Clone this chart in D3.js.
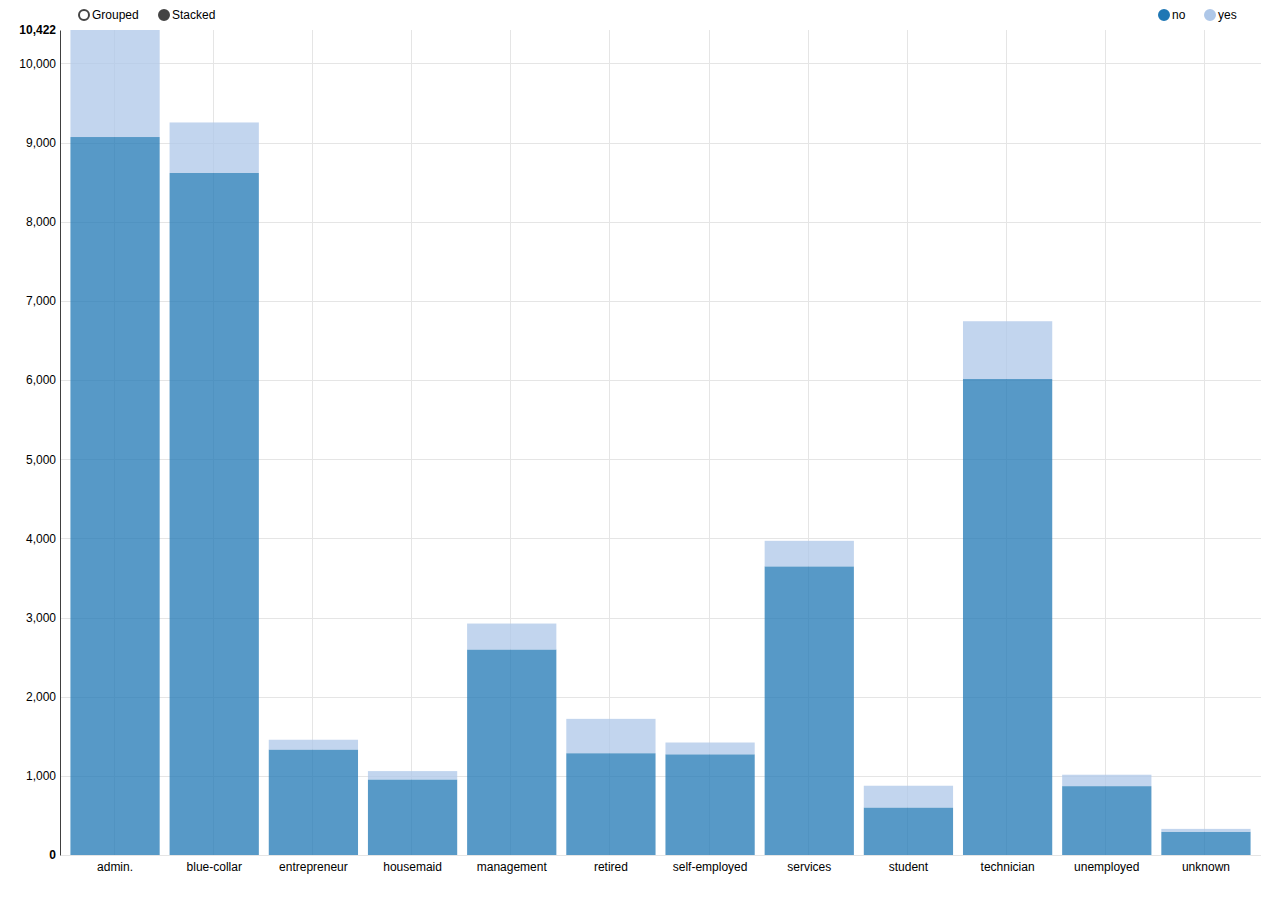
<!DOCTYPE html>
<head>
  <meta charset="utf-8">
  <script src="https://d3js.org/d3.v7.min.js"></script>
  <style>
    body { margin: 0; background: #fff; }
    svg { display: block; font-family: Arial, "Liberation Sans", sans-serif; font-size: 12px; }
    .grid line { stroke: #e5e5e5; shape-rendering: crispEdges; }
  </style>
</head>
<body>
  <svg width="1281" height="905"></svg>
  <script>
    // data
    var jobs = ["admin.", "blue-collar", "entrepreneur", "housemaid", "management", "retired",
                "self-employed", "services", "student", "technician", "unemployed", "unknown"];
    var noCounts  = [9070, 8616, 1332, 954, 2596, 1286, 1272, 3646, 600, 6013, 870, 293];
    var yesCounts = [1352, 638, 124, 106, 328, 434, 149, 323, 275, 730, 144, 37];
    var seriesNames = ["no", "yes"];
    var seriesColors = ["#1f77b4", "#aec7e8"];
    var yTicks = [1000, 2000, 3000, 4000, 5000, 6000, 7000, 8000, 9000, 10000];

    // options
    var margin = {top: 30, right: 20.5, bottom: 50, left: 60.5};
    var width = 1281, height = 905;

    var rows = jobs.map(function(j, i) { return {job: j, no: noCounts[i], yes: yesCounts[i]}; });
    var stacked = d3.stack().keys(seriesNames)(rows);
    var yMax = d3.max(rows, function(d) { return d.no + d.yes; });

    var x = d3.scaleBand().domain(jobs)
      .range([margin.left, width - margin.right])
      .paddingInner(0.1).paddingOuter(0.1);
    var y = d3.scaleLinear().domain([0, yMax])
      .range([height - margin.bottom, margin.top]);

    var svg = d3.select('svg');

    // grid
    var grid = svg.append('g').attr('class', 'grid');
    grid.selectAll('.h').data(yTicks).enter().append('line')
      .attr('x1', margin.left).attr('x2', width - margin.right)
      .attr('y1', function(d) { return Math.round(y(d)) + 0.5; })
      .attr('y2', function(d) { return Math.round(y(d)) + 0.5; });
    grid.selectAll('.v').data(jobs).enter().append('line')
      .attr('x1', function(d) { return Math.floor(x(d) + x.bandwidth() / 2) - 0.5; })
      .attr('x2', function(d) { return Math.floor(x(d) + x.bandwidth() / 2) - 0.5; })
      .attr('y1', margin.top).attr('y2', height - margin.bottom);

    // bars
    svg.append('g').selectAll('g').data(stacked).enter().append('g')
      .attr('fill', function(d, i) { return seriesColors[i]; })
      .attr('fill-opacity', 0.75)
      .selectAll('rect').data(function(d) { return d; }).enter().append('rect')
      .attr('x', function(d) { return x(d.data.job); })
      .attr('width', x.bandwidth())
      .attr('y', function(d) { return y(d[1]); })
      .attr('height', function(d) { return y(d[0]) - y(d[1]); });

    var font = 'Arial, "Liberation Sans", sans-serif';

    // axes
    var xAxis = svg.append('g')
      .attr('transform', 'translate(0,' + (height - margin.bottom) + ')')
      .call(d3.axisBottom(x).tickSize(0).tickPadding(7));
    xAxis.select('.domain').attr('stroke', '#e5e5e5');
    xAxis.selectAll('text').attr('font-size', 12).attr('font-family', font).attr('fill', '#000');

    var yAxis = svg.append('g')
      .attr('transform', 'translate(' + (margin.left - 0.5) + ',0)')
      .call(d3.axisLeft(y).tickValues(yTicks).tickSize(0).tickPadding(4).tickFormat(d3.format(',')));
    yAxis.select('.domain').attr('stroke', '#000').attr('stroke-opacity', 0.75);
    yAxis.selectAll('text').attr('font-size', 12).attr('font-family', font).attr('fill', '#000');

    // max/min labels
    yAxis.selectAll('.maxmin').data([0, yMax]).enter().append('text')
      .attr('x', -4).attr('y', function(d) { return y(d); }).attr('dy', '0.32em')
      .attr('text-anchor', 'end').attr('font-weight', 'bold').attr('fill', '#000')
      .attr('font-size', 12).attr('font-family', font)
      .text(d3.format(','));

    // controls
    var controls = [{label: "Grouped", on: false, x: 84}, {label: "Stacked", on: true, x: 164}];
    var ctl = svg.append('g').selectAll('g').data(controls).enter().append('g')
      .attr('transform', function(d) { return 'translate(' + d.x + ',15)'; });
    ctl.append('circle').attr('r', 5)
      .attr('fill', function(d) { return d.on ? '#444' : '#fff'; })
      .attr('stroke', '#444').attr('stroke-width', 2);
    ctl.append('text').attr('x', 8).attr('dy', '0.32em').text(function(d) { return d.label; });

    // legend
    var legendX = [1164, 1210];
    var lg = svg.append('g').selectAll('g').data(seriesNames).enter().append('g')
      .attr('transform', function(d, i) { return 'translate(' + legendX[i] + ',15)'; });
    lg.append('circle').attr('r', 5)
      .attr('fill', function(d, i) { return seriesColors[i]; })
      .attr('stroke', function(d, i) { return seriesColors[i]; }).attr('stroke-width', 2);
    lg.append('text').attr('x', 8).attr('dy', '0.32em').text(function(d) { return d; });
  </script>
</body>
